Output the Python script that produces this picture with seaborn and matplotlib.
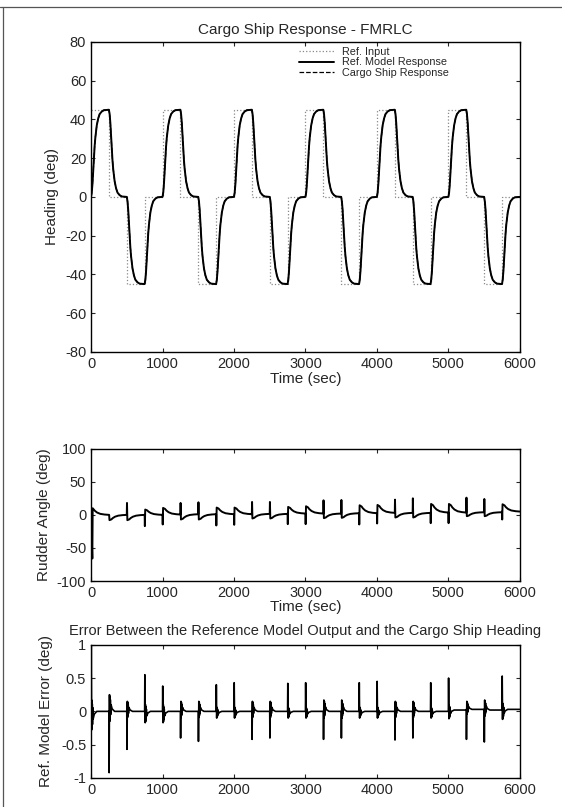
import numpy as np
import pandas as pd
import seaborn as sns
import matplotlib.pyplot as plt
from matplotlib.lines import Line2D

# reference input: one level per 250 s segment
seg_len = 250
ref_levels = [45, 0, -45, 0] * 6

# shape of one reference model transition (fraction of the step)
resp_dt = [0, 10, 20, 30, 40, 50, 60, 80, 100, 120, 150, 180, 249]
resp_frac = [0, 0.05, 0.15, 0.30, 0.45, 0.58, 0.68, 0.82, 0.90, 0.95, 0.98, 0.995, 1.0]

# rudder angle: one transient per input switch
event_t = list(range(0, 6000, 250))
spike_dt = [18] + [3] * 23
rudder_spike = [-66, 0, 18, -17, -15, 17, 18, -17, -16, 18, 18, -16,
                -16, 20, 20, -17, -16, 20, 22, -16, -16, 22, 20, -12]
rudder_bump = [10, -8, -8, 8, 10, -8, -8, 10, 10, -7, -7, 10,
               11, -7, -7, 12, 12, -7, -7, 13, 13, -6, -6, 11]
rudder_base = [0, 0, 0, 0, 0.5, 1, 1, 1, 1, 1.5, 1.5, 2,
               2, 2, 2.5, 2.5, 3, 3, 3, 3.5, 3.5, 4, 4, 5]
decay_dt = [35, 55, 85, 130, 190, 249]
decay_frac = [0.85, 0.6, 0.35, 0.15, 0.05, 0.0]

# heading error: spike + ringing at each switch
err_spike = [1.0, -0.92, -0.57, 0.55, 0.38, -0.40, -0.45, 0.40, 0.43, -0.42, -0.40, 0.42,
             0.43, -0.42, -0.40, 0.43, 0.45, -0.43, -0.40, 0.43, 0.48, -0.45, -0.48, 0.50]
err_rebound = [-0.28, 0.25, 0.15, -0.17, -0.17, 0.15, 0.15, -0.10, -0.10, 0.15, 0.15, -0.10,
               -0.10, 0.17, 0.17, -0.10, -0.10, 0.15, 0.15, -0.10, -0.13, 0.12, 0.15, -0.15]
err_base = [0] * 20 + [0.02, 0.03, 0.02, 0.03]
ring_dt = [8, 11, 14, 17, 20, 24, 30, 45, 80, 249]
ring_frac = [1.0, -0.6, 0.9, -0.4, 0.7, -0.2, 0.4, 0.15, 0.0, 0.0]

# ---- build the series
t_h, y_h, t_in, y_in = [], [], [], []
prev = 0
for i, lev in enumerate(ref_levels):
    t0 = i * seg_len
    for dt, f in zip(resp_dt, resp_frac):
        t_h.append(t0 + dt)
        y_h.append(prev + (lev - prev) * f)
    t_in += [t0, t0 + seg_len]
    y_in += [lev, lev]
    prev = lev

rud_t, rud_y = [], []
for k, t0 in enumerate(event_t):
    b = rudder_base[k]
    s = spike_dt[k]
    rud_t += [t0, t0 + s, t0 + s + 5]
    rud_y += [b, b + rudder_spike[k], b + rudder_bump[k]]
    for dt, f in zip(decay_dt, decay_frac):
        rud_t.append(t0 + dt)
        rud_y.append(b + rudder_bump[k] * f)

err_t, err_y = [], []
for k, t0 in enumerate(event_t):
    b = err_base[k]
    err_t += [t0, t0 + 3]
    err_y += [b, b + err_spike[k]]
    for dt, f in zip(ring_dt, ring_frac):
        err_t.append(t0 + dt)
        err_y.append(b + err_rebound[k] * f)

heading = pd.DataFrame({"t": t_h, "model": y_h})
ref_in = pd.DataFrame({"t": t_in, "u": y_in})
rudder = pd.DataFrame({"t": rud_t, "delta": rud_y})
err = pd.DataFrame({"t": err_t, "e": err_y})

# ---- plotting
sns.set_theme(style="ticks")
plt.rcParams["font.family"] = ["Liberation Sans", "DejaVu Sans"]
plt.rcParams["axes.unicode_minus"] = False

fig = plt.figure(figsize=(5.62, 8.07), dpi=100)
# scanned page edges (top and left)
fig.add_artist(Line2D([0, 1], [0.991, 0.991], transform=fig.transFigure, color="#555555", lw=0.9))
fig.add_artist(Line2D([0.005, 0.005], [0, 0.991], transform=fig.transFigure, color="#555555", lw=0.9))

ax1 = fig.add_axes([0.162, 0.564, 0.763, 0.384])
ax2 = fig.add_axes([0.162, 0.280, 0.763, 0.164])
ax3 = fig.add_axes([0.162, 0.036, 0.763, 0.165])

sns.lineplot(data=ref_in, x="t", y="u", ax=ax1, color="#888888", lw=0.9,
             linestyle=":", label="Ref. Input", estimator=None, sort=False)
sns.lineplot(data=heading, x="t", y="model", ax=ax1, color="black", lw=1.4,
             label="Ref. Model Response", estimator=None, sort=False)
sns.lineplot(data=heading, x="t", y="model", ax=ax1, color="black", lw=0.9,
             linestyle="--", label="Cargo Ship Response", estimator=None, sort=False)
sns.lineplot(data=rudder, x="t", y="delta", ax=ax2, color="black", lw=1.4,
             estimator=None, sort=False)
sns.lineplot(data=err, x="t", y="e", ax=ax3, color="black", lw=1.2,
             estimator=None, sort=False)

ax1.set_ylim(-80, 80)
ax1.set_yticks(range(-80, 81, 20))
ax1.set_title("Cargo Ship Response - FMRLC", fontsize=11, pad=6)
ax1.set_ylabel("Heading (deg)", fontsize=11)
ax1.set_xlabel("Time (sec)", fontsize=11, labelpad=1)
ax1.legend(loc="upper left", bbox_to_anchor=(0.47, 1.005), frameon=False, fontsize=7.8,
           handlelength=3.2, labelspacing=0.05, borderaxespad=0.2)

ax2.set_ylim(-100, 100)
ax2.set_yticks([-100, -50, 0, 50, 100])
ax2.set_ylabel("Rudder Angle (deg)", fontsize=11)
ax2.set_xlabel("Time (sec)", fontsize=11, labelpad=0)

ax3.set_ylim(-1, 1)
ax3.set_yticks([-1, -0.5, 0, 0.5, 1])
ax3.set_yticklabels(["-1", "-0.5", "0", "0.5", "1"])
ax3.set_ylabel("Ref. Model Error (deg)", fontsize=11, labelpad=6)
ax3.set_xlabel("")
ax3.set_title("Error Between the Reference Model Output and the Cargo Ship Heading",
              fontsize=10.5, pad=7)

for ax in (ax1, ax2, ax3):
    ax.set_xlim(0, 6000)
    ax.set_xticks(range(0, 6001, 1000))
    ax.tick_params(direction="in", top=True, right=True, labelsize=10.5, length=3, width=0.8)
    for s in ax.spines.values():
        s.set_linewidth(1.0)
        s.set_color("black")

fig.savefig("out.png", dpi=100)
